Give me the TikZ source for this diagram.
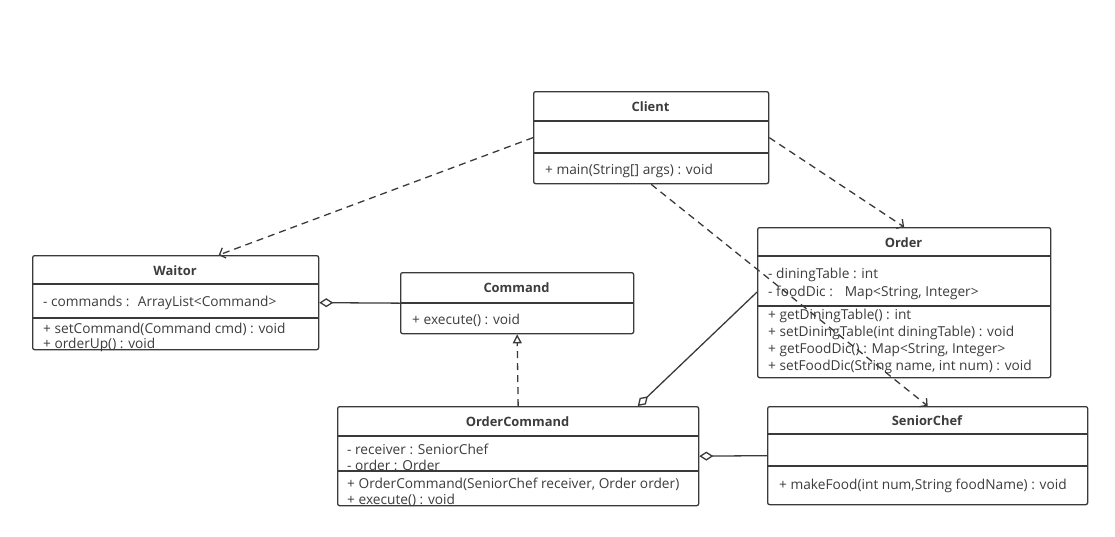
\documentclass[tikz,border=0pt]{standalone}
\usepackage{fontspec}
\setmainfont{Open Sans}
\usetikzlibrary{arrows.meta,calc}

\definecolor{umlline}{HTML}{3A3A3A}
\definecolor{umltext}{HTML}{3C3C3C}

\begin{document}
\begin{tikzpicture}[x=1pt,y=-1pt,
  every node/.style={inner sep=0pt,text=umltext,font=\fontsize{13.7}{16}\selectfont},
  cls/.style={draw=umlline,line width=1.3pt,rounded corners=2pt,anchor=north west},
  sep/.style={draw=umlline,line width=1.3pt},
  title/.style={font=\fontsize{12.9}{15}\selectfont\bfseries},
  attr/.style={anchor=west,yshift=-2pt},
  dep/.style={draw=umlline,line width=1.3pt,dash pattern=on 7pt off 5pt,-{Straight Barb[length=5pt,width=11pt]}},
  real/.style={draw=umlline,line width=1.3pt,dash pattern=on 7pt off 5pt,-{Triangle[open,length=9pt,width=9pt]}},
  agg/.style={draw=umlline,line width=1.3pt,{Diamond[open,length=14pt,width=9pt]}-}]
\useasboundingbox (0,0) rectangle (1115,536);

% Client
\node(client)at(533,91)[cls,minimum width=235,minimum height=92]{};
\draw[sep](533,121)--(768,121);
\draw[sep](533,153)--(768,153);
\node(clientT)at(650.5,107)[title]{Client};
\node(clientM)at(545,169)[attr]{+ main(String[] args) : void};

% Waitor
\node(waitor)at(32,255)[cls,minimum width=286,minimum height=94]{};
\draw[sep](32,284)--(318,284);
\draw[sep](32,318)--(318,318);
\node(waitorT)at(175,271)[title]{Waitor};
\node(waitorA)at(43,301)[attr]{- commands :~ ArrayList<Command>};
\node(waitorM1)at(43,327)[attr]{+ setCommand(Command cmd) : void};
\node(waitorM2)at(43,343)[attr]{+ orderUp() : void};

% Command
\node(command)at(400,272)[cls,minimum width=233,minimum height=61]{};
\draw[sep](400,303)--(633,303);
\node(commandT)at(516.5,288)[title]{Command};
\node(commandM)at(412,318)[attr]{+ execute() : void};

% Order
\node(order)at(757,227)[cls,minimum width=293,minimum height=150]{};
\draw[sep](757,256)--(1050,256);
\draw[sep](757,306)--(1050,306);
\node(orderT)at(903.5,243)[title]{Order};
\node(orderA1)at(768,273)[attr]{- diningTable : int};
\node(orderA2)at(768,291)[attr]{- foodDic :~~ Map<String, Integer>};
\node(orderM1)at(768,314)[attr]{+ getDiningTable() : int};
\node(orderM2)at(768,331)[attr]{+ setDiningTable(int diningTable) : void};
\node(orderM3)at(768,348)[attr]{+ getFoodDic() : Map<String, Integer>};
\node(orderM4)at(768,365)[attr]{+ setFoodDic(String name, int num) : void};

% OrderCommand
\node(ordercmd)at(337,406)[cls,minimum width=361,minimum height=99]{};
\draw[sep](337,436)--(698,436);
\draw[sep](337,471)--(698,471);
\node(ordercmdT)at(517.5,422)[title]{OrderCommand};
\node(ordercmdA1)at(347,447)[attr]{- receiver : SeniorChef};
\node(ordercmdA2)at(347,463)[attr]{- order : Order};
\node(ordercmdM1)at(347,482)[attr]{+ OrderCommand(SeniorChef receiver, Order order)};
\node(ordercmdM2)at(347,498)[attr]{+ execute() : void};

% SeniorChef
\node(chef)at(767,406)[cls,minimum width=320,minimum height=98]{};
\draw[sep](767,434)--(1087,434);
\draw[sep](767,466)--(1087,466);
\node(chefT)at(927,421)[title]{SeniorChef};
\node(chefM)at(779,484)[attr]{+ makeFood(int num,String foodName) : void};

% relations
\draw[dep](client.west)--($(waitor.north west)!0.65!(waitor.north east)$);
\draw[dep](client.east)--(order.north);
\draw[dep](client.south)--(chef.north);
\draw[real](ordercmd.north)--(command.south);
\draw[agg](waitor.east)--(command.west);
\draw[agg]($(ordercmd.north west)!0.83!(ordercmd.north east)$)--($(order.north west)!0.43!(order.south west)$);
\draw[agg](ordercmd.east)--(chef.west);
\end{tikzpicture}
\end{document}
